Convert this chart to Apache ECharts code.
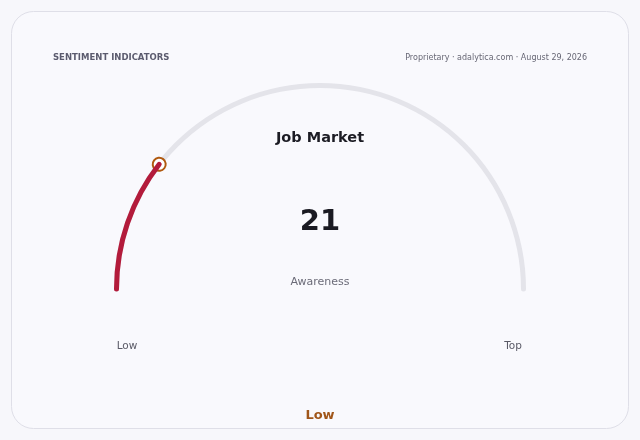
<!DOCTYPE html>
<html><head><meta charset="utf-8">
<script src="https://cdn.jsdelivr.net/npm/echarts@6/dist/echarts.min.js"></script>
<style>html,body{margin:0;padding:0;background:#f7f7fb;}#c{width:640px;height:440px;}</style>
</head><body><div id="c"></div>
<script>
const headerLeft = 'SENTIMENT INDICATORS';
const headerRight = 'Proprietary · adalytica.com · August 29, 2026';
const gaugeTitle = 'Job Market';
const metricName = 'Awareness';
const metricValue = [21];
const scaleMin = 0, scaleMax = 100;
const endLabels = ['Low', 'Top'];
const bandLabel = 'Low';

const font = 'DejaVu Sans';
const chart = echarts.init(document.getElementById('c'));
const R = 206;
chart.setOption({
  backgroundColor: '#f7f7fb',
  textStyle: {fontFamily: font},
  graphic: [{
    type: 'rect', z: -10,
    shape: {x: 11.5, y: 11.5, width: 617, height: 417, r: 22},
    style: {fill: '#f9f9fd', stroke: '#dfdfe8', lineWidth: 1}
  }],
  title: [
    {text: headerLeft, left: 53, top: 53, padding: 0, textStyle: {fontSize: 8.5, fontWeight: 'bold', color: '#5b5b6e', fontFamily: font}},
    {text: headerRight, right: 53, top: 54, padding: 0, textStyle: {fontSize: 8, fontWeight: 'normal', color: '#676775', fontFamily: font}},
    {text: gaugeTitle, left: 320, top: 131, padding: 0, textAlign: 'center', textStyle: {fontSize: 14.5, fontWeight: 'bold', color: '#1c1c24', fontFamily: font}},
    {text: endLabels[0], left: 127, top: 341, padding: 0, textAlign: 'center', textStyle: {fontSize: 10.5, fontWeight: 'normal', color: '#5a5a66', fontFamily: font}},
    {text: endLabels[1], left: 513, top: 341, padding: 0, textAlign: 'center', textStyle: {fontSize: 10.5, fontWeight: 'normal', color: '#5a5a66', fontFamily: font}},
    {text: bandLabel, left: 320, top: 409, padding: 0, textAlign: 'center', textStyle: {fontSize: 13, fontWeight: 'bold', color: '#a0561a', fontFamily: font}}
  ],
  series: [{
    type: 'gauge',
    center: [320, 289],
    radius: R,
    startAngle: 180, endAngle: 0,
    min: scaleMin, max: scaleMax,
    axisLine: {roundCap: true, lineStyle: {width: 5, color: [[1, '#e4e4ea']]}},
    progress: {show: true, roundCap: true, width: 5, itemStyle: {color: '#b31b3b'}},
    splitLine: {show: false}, axisTick: {show: false}, axisLabel: {show: false},
    pointer: {show: true, icon: 'circle', length: 13, width: 13, offsetCenter: [0, -(R - 9)],
      itemStyle: {color: '#ffffff', borderColor: '#b0590f', borderWidth: 2}},
    anchor: {show: false},
    title: {offsetCenter: [0, -7], fontSize: 11, color: '#6b6b78', fontFamily: font},
    detail: {offsetCenter: [0, -67], fontSize: 29, fontWeight: 'bold', color: '#1a1a22', fontFamily: font, valueAnimation: false},
    animation: false,
    data: [{value: metricValue[0], name: metricName}]
  }]
});
</script></body></html>
